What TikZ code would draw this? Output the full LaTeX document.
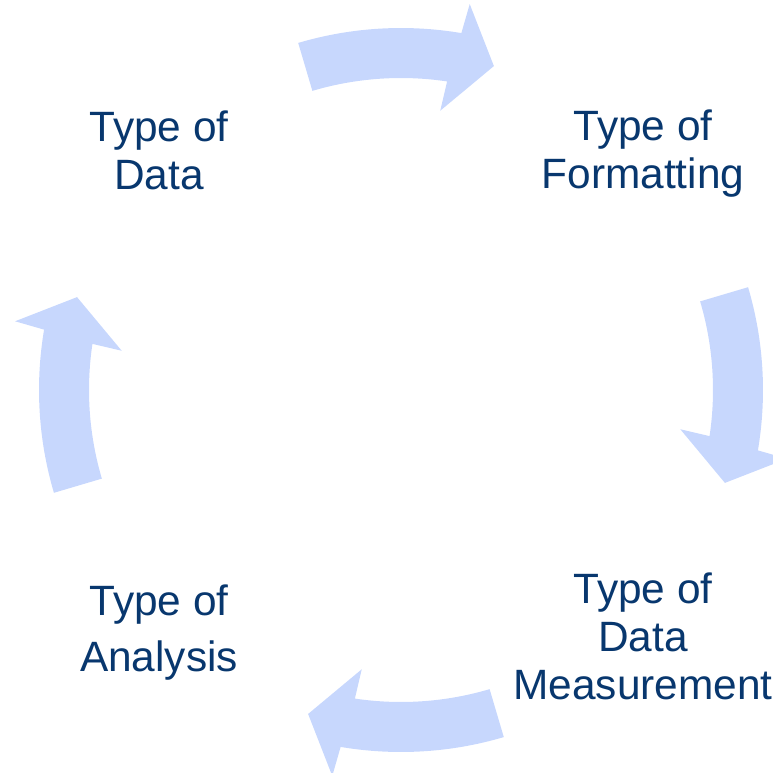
\documentclass[tikz,border=0pt]{standalone}
\usepackage{fontspec}
\setmainfont{Liberation Sans}
\usepackage{xcolor}
\definecolor{textnavy}{RGB}{8,55,110}
\definecolor{arrowblue}{RGB}{199,215,253}

\begin{document}
\begin{tikzpicture}[x=1pt,y=1pt,
		cycletext/.style={text=textnavy,align=center,font=\fontsize{42.4}{48}\selectfont},
		cyclearrow/.style={fill=arrowblue,draw=none}]
			\useasboundingbox (-401,-382) rectangle (372,390);
			\clip (-401,-382) rectangle (372,390);
			% four curved arrows round the ring, running clockwise
			\foreach \c in {90,0,-90,180}
			{
				\fill[cyclearrow] (\c+16.5:362) arc[start angle=\c+16.5,end angle=\c-9.6,radius=362]
					-- (\c-10.1:392) -- (\c-16:337) -- (\c-8:282) -- (\c-8.5:312)
					arc[start angle=\c-8.5,end angle=\c+16.5,radius=312] -- cycle;
			}
			\node[cycletext](data) at (-242,240) {Type of\\Data};
			\node[cycletext](formatting) at (242,236) {Type of\\Formatting};
			\node[cycletext](measurement) at (242,-246) {Type of\\Data\\Measurement};
			\node[cycletext](analysis) at (-242,-243) {Type of\\[8pt]Analysis};
		\end{tikzpicture}
\end{document}
